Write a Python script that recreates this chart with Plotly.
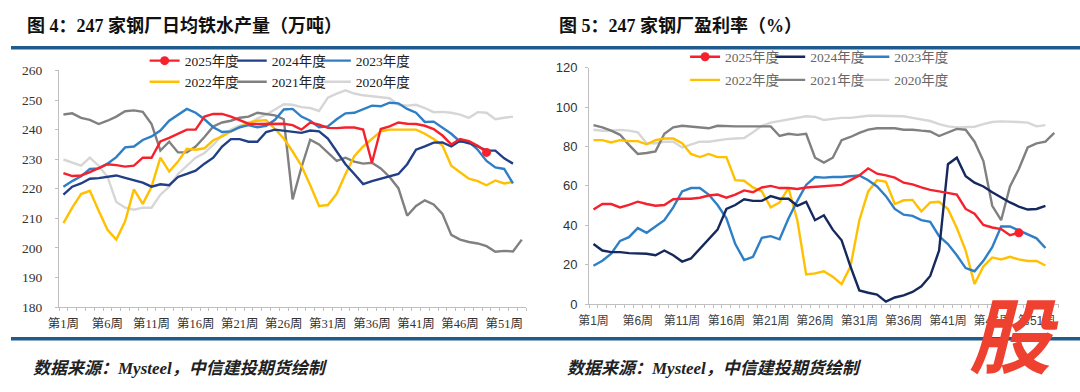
import plotly.graph_objects as go

W, H = 1080, 392

weeks = list(range(1, 54))
tick_weeks = [1, 6, 11, 16, 21, 26, 31, 36, 41, 46, 51]
tick_text = ["第%d周" % w for w in tick_weeks]
series_names = ["2025年度", "2024年度", "2023年度", "2022年度", "2021年度", "2020年度"]

# ---------------- Figure 4: daily hot metal output (10k t) ----------------
iron_2025 = [225.3, 224.3, 224.5, 225.6, 227.0, 228.3, 228.0, 227.5, 227.8, 230.5,
             230.5, 236.0, 237.2, 238.6, 240.0, 240.0, 244.4, 245.3, 245.3, 244.4,
             243.3, 242.0, 241.9, 241.9, 242.0, 242.0, 241.5, 240.0, 242.4, 241.7,
             240.6, 240.5, 240.7, 240.7, 240.0, 228.8, 240.2, 241.1, 242.4, 242.0,
             241.9, 241.3, 240.2, 238.0, 235.0, 236.8, 236.1, 234.5, 232.3]
iron_2024 = [218.0, 220.7, 221.8, 223.4, 223.6, 224.0, 224.5, 223.7, 222.9, 222.1,
             220.7, 221.5, 221.2, 224.0, 225.0, 226.1, 228.5, 230.5, 234.3, 236.8,
             236.8, 235.9, 235.9, 239.2, 240.0, 239.7, 239.4, 238.9, 239.7, 239.4,
             237.0, 232.6, 228.3, 225.0, 221.6, 222.6, 223.4, 224.0, 225.0, 228.3,
             233.2, 234.3, 235.6, 235.7, 234.3, 236.2, 235.4, 234.3, 232.9, 232.9,
             230.3, 228.5]
iron_2023 = [220.7, 222.6, 224.2, 226.7, 226.9, 228.5, 230.7, 234.0, 234.3, 236.5,
             237.7, 239.7, 243.0, 245.1, 247.0, 245.7, 243.5, 240.8, 239.2, 239.4,
             240.8, 241.5, 240.8, 241.3, 243.3, 246.8, 247.0, 244.4, 243.0, 240.8,
             241.1, 243.5, 245.5, 245.7, 247.0, 248.1, 247.9, 249.1, 248.9, 247.0,
             245.7, 242.6, 242.7, 240.8, 238.6, 235.9, 235.9, 233.2, 229.4, 227.2,
             226.7, 221.8]
iron_2022 = [208.4, 213.6, 218.2, 219.3, 212.6, 206.1, 202.8, 209.0, 219.8, 214.9,
             220.7, 230.5, 225.8, 229.2, 233.5, 233.2, 233.7, 236.4, 237.7, 239.4,
             240.8, 242.4, 243.0, 243.2, 240.2, 237.0, 232.6, 227.8, 221.2, 214.2,
             214.5, 218.3, 225.0, 231.0, 234.3, 237.0, 239.4, 240.0, 240.0, 240.0,
             240.0, 238.6, 236.8, 234.6, 227.8, 225.6, 223.4, 222.6, 221.2, 222.8,
             221.8, 222.3]
iron_2021 = [245.1, 245.5, 244.0, 243.3, 241.9, 243.0, 244.4, 246.2, 246.5, 246.0,
             241.9, 232.9, 235.9, 232.3, 232.3, 234.3, 237.5, 241.1, 242.4, 243.0,
             244.0, 244.4, 245.7, 245.3, 244.8, 243.5, 216.4, 227.2, 236.6, 235.0,
             232.1, 229.4, 230.5, 229.2, 228.5, 228.8, 226.9, 224.0, 220.2, 210.9,
             214.2, 216.1, 214.7, 211.5, 204.4, 202.8, 202.0, 201.5, 200.6, 198.7,
             199.0, 198.8, 202.8]
iron_2020 = [229.9, 228.8, 227.8, 230.5, 227.8, 224.0, 215.5, 213.6, 212.9, 213.6,
             213.6, 218.0, 220.7, 225.0, 227.8, 230.5, 232.1, 234.8, 238.1, 240.0,
             241.3, 241.9, 243.7, 245.1, 246.8, 248.6, 248.4, 247.6, 247.3, 246.3,
             250.8, 252.2, 253.3, 252.2, 251.6, 251.3, 251.0, 250.6, 248.4, 248.1,
             248.4, 247.3, 245.9, 246.0, 245.7, 245.1, 244.0, 245.9, 245.7, 243.5,
             244.0, 244.4]

# ---------------- Figure 5: steel mill profitability (%) ----------------
profit_2025 = [48.0, 50.8, 50.8, 49.1, 50.4, 52.0, 50.8, 49.9, 50.3, 53.2,
               53.5, 53.5, 54.0, 55.1, 55.6, 54.0, 55.6, 57.7, 56.8, 59.2,
               60.0, 58.9, 58.9, 58.4, 59.2, 59.5, 59.7, 60.0, 60.5, 62.9,
               65.3, 68.9, 66.2, 65.3, 64.2, 61.6, 60.8, 59.2, 58.0, 57.2,
               56.4, 55.6, 48.3, 45.9, 40.2, 38.9, 38.1, 35.0, 36.2]
profit_2024 = [30.5, 27.2, 26.4, 26.4, 25.9, 25.9, 25.6, 24.8, 27.2, 24.8,
               21.6, 23.2, 28.1, 32.9, 37.8, 48.3, 50.3, 53.2, 52.4, 52.4,
               54.8, 53.5, 53.5, 49.9, 51.9, 42.6, 45.1, 37.8, 32.4, 19.1,
               7.0, 5.8, 4.9, 1.3, 3.4, 4.5, 6.2, 9.1, 14.3, 27.2,
               71.0, 74.3, 64.9, 61.6, 59.7, 56.8, 54.0, 51.6, 49.5, 48.0,
               48.3, 49.9]
profit_2023 = [19.5, 22.0, 25.6, 32.1, 34.0, 38.6, 36.2, 39.4, 42.6, 49.1,
               57.2, 58.9, 58.9, 55.6, 50.3, 43.5, 30.5, 22.4, 24.0, 33.7,
               34.5, 32.9, 43.5, 52.4, 60.5, 64.5, 64.2, 64.5, 64.5, 64.9,
               65.3, 62.9, 59.7, 54.8, 48.3, 45.4, 44.8, 42.6, 41.8, 34.5,
               30.5, 24.8, 18.3, 16.7, 22.0, 28.9, 39.4, 39.4, 37.3, 35.3,
               33.4, 28.5]
profit_2022 = [83.2, 83.2, 82.0, 83.2, 82.7, 82.7, 81.1, 83.2, 84.0, 84.0,
               81.6, 76.2, 74.6, 76.2, 74.6, 74.6, 62.9, 62.6, 59.2, 57.2,
               49.1, 51.6, 58.9, 42.6, 15.1, 15.6, 16.7, 13.9, 10.2, 19.1,
               42.6, 57.2, 62.9, 62.1, 50.8, 52.7, 52.9, 47.0, 51.6, 51.9,
               48.3, 38.6, 27.2, 10.2, 19.1, 23.7, 22.7, 24.0, 22.7, 21.9,
               21.9, 19.6]
profit_2021 = [90.8, 89.7, 88.0, 85.9, 80.8, 76.2, 76.7, 77.5, 86.4, 89.7,
               90.5, 90.0, 89.7, 89.2, 90.5, 90.2, 90.2, 90.2, 90.2, 90.2,
               90.2, 85.3, 86.4, 85.9, 86.4, 74.3, 71.8, 74.3, 83.2, 84.8,
               86.9, 88.5, 89.2, 89.2, 89.2, 88.5, 88.5, 88.0, 87.6, 85.3,
               86.9, 88.9, 88.5, 82.4, 72.6, 49.9, 42.6, 59.7, 68.6, 79.5,
               81.6, 82.4, 86.9]
profit_2020 = [88.5, 88.0, 88.0, 88.4, 88.0, 87.2, 81.6, 81.6, 82.4, 82.4,
               79.5, 80.8, 82.4, 82.4, 83.2, 83.7, 84.0, 84.3, 87.2, 90.5,
               92.1, 92.9, 93.7, 94.5, 95.3, 95.0, 93.4, 94.0, 94.5, 94.5,
               95.0, 95.6, 95.6, 95.6, 95.3, 95.3, 94.5, 93.7, 92.9, 91.3,
               90.2, 89.7, 90.0, 90.0, 91.3, 92.4, 92.7, 92.7, 92.4, 92.1,
               90.2, 90.8]

colors = ["#F5222D", "#203F86", "#2E7FC6", "#FFC000", "#808080", "#D6D6D6"]

SERIF = "Liberation Serif, Noto Sans CJK SC, serif"
SANS = "Liberation Sans, Noto Sans CJK SC, sans-serif"


def px(x):
    return x / W


def py(y):
    return 1 - y / H


fig = go.Figure()

# legend anchor placements (pixels: left x, row centre y)
left_leg_pos = [(135, 56), (223, 56), (308, 56), (135, 78), (223, 78), (308, 78)]
right_leg_pos = [(681, 52), (767, 52), (852, 52), (681, 76), (767, 76), (852, 76)]

iron_all = [iron_2025, iron_2024, iron_2023, iron_2022, iron_2021, iron_2020]
profit_all = [profit_2025, profit_2024, profit_2023, profit_2022, profit_2021, profit_2020]

legend_layouts = {}
leg_idx = 0


def add_chart(data_all, xa, ya, leg_pos, leg_font, navy):
    global leg_idx
    order = [5, 4, 3, 2, 1, 0]  # older years first, 2025 on top
    for i in order:
        vals = data_all[i]
        col = colors[i] if i != 1 else navy
        leg_idx += 1
        lname = "legend" if leg_idx == 1 else "legend%d" % leg_idx
        if i == 0:
            fig.add_trace(go.Scatter(
                x=weeks[:len(vals)], y=vals, mode="lines", xaxis=xa, yaxis=ya,
                line=dict(color=col, width=2.4), showlegend=False, hoverinfo="skip"))
            fig.add_trace(go.Scatter(
                x=[weeks[len(vals) - 1]], y=[vals[-1]], mode="lines+markers",
                xaxis=xa, yaxis=ya, name=series_names[i], legend=lname,
                line=dict(color=col, width=2.4),
                marker=dict(color=col, size=9)))
        else:
            fig.add_trace(go.Scatter(
                x=weeks[:len(vals)], y=vals, mode="lines", xaxis=xa, yaxis=ya,
                name=series_names[i], legend=lname,
                line=dict(color=col, width=2.4)))
        lx, ly = leg_pos[i]
        legend_layouts[lname] = dict(
            x=px(lx), y=py(ly), xanchor="left", yanchor="middle",
            bgcolor="rgba(0,0,0,0)", borderwidth=0, itemwidth=30,
            font=leg_font, orientation="h", tracegroupgap=0)


add_chart(iron_all, "x", "y", left_leg_pos,
          dict(family=SERIF, size=13.5, color="#222222"), "#203F86")
add_chart(profit_all, "x2", "y2", right_leg_pos,
          dict(family=SERIF, size=13.5, color="#666666"), "#16295E")

axis_line = "#BFBFBF"
week_bounds = [w - 0.5 for w in weeks] + [weeks[-1] + 0.5]

xcommon = dict(range=[0.5, 53.5], tickmode="array", tickvals=tick_weeks, ticktext=tick_text,
               ticks="", showline=True, linecolor=axis_line, linewidth=1,
               showgrid=False, zeroline=False, fixedrange=True,
               minor=dict(tickmode="array", tickvals=week_bounds, ticks="outside",
                          ticklen=3, tickcolor=axis_line, showgrid=False))

fig.update_layout(
    width=W, height=H, margin=dict(l=0, r=0, t=0, b=0),
    paper_bgcolor="white", plot_bgcolor="white",
    xaxis=dict(domain=[px(48.5), px(520.5)], anchor="y",
               tickfont=dict(family=SERIF, size=12.5, color="#333333"),
               ticklabelstandoff=5, **xcommon),
    yaxis=dict(domain=[py(312), py(66)], anchor="x", range=[180, 260],
               tickmode="array", tickvals=list(range(180, 261, 10)),
               ticks="outside", ticklen=3, tickcolor=axis_line,
               showline=True, linecolor=axis_line, linewidth=1, showgrid=False,
               zeroline=False, tickfont=dict(family=SERIF, size=13.5, color="#333333"),
               ticklabelstandoff=10),
    xaxis2=dict(domain=[px(584), px(1058.5)], anchor="y2",
                tickfont=dict(family=SANS, size=12, color="#404040"),
                ticklabelstandoff=5, **xcommon),
    yaxis2=dict(domain=[py(309), py(63)], anchor="x2", range=[0, 120],
                tickmode="array", tickvals=list(range(0, 121, 20)),
                ticks="outside", ticklen=3, tickcolor=axis_line,
                showline=True, linecolor=axis_line, linewidth=1, showgrid=False,
                zeroline=False, tickfont=dict(family=SANS, size=13, color="#333333"),
                ticklabelstandoff=5),
    **legend_layouts,
)

# separator rules
for yy in (42.5, 345):
    fig.add_shape(type="line", xref="paper", yref="paper", x0=0, x1=1,
                  y0=py(yy), y1=py(yy), line=dict(color="#215A8C", width=3.5))

title_font = dict(family=SERIF, size=18, color="#111111", weight="bold")
fig.add_annotation(text="图 4：247 家钢厂日均铁水产量（万吨）", xref="paper", yref="paper",
                   x=px(14), y=py(19), xanchor="left", yanchor="middle",
                   showarrow=False, font=title_font)
fig.add_annotation(text="图 5：247 家钢厂盈利率（%）", xref="paper", yref="paper",
                   x=px(552), y=py(19), xanchor="left", yanchor="middle",
                   showarrow=False, font=title_font)

src_font = dict(family=SERIF, size=17, color="#222222", style="italic", weight="bold")
for sx in (20, 560):
    fig.add_annotation(text="数据来源：Mysteel，中信建投期货绘制", xref="paper", yref="paper",
                       x=px(sx), y=py(376), xanchor="left", yanchor="middle",
                       showarrow=False, font=src_font)

# watermark glyph
fig.add_annotation(text="股", xref="paper", yref="paper", x=px(1013), y=py(337),
                   xanchor="center", yanchor="middle", showarrow=False,
                   font=dict(family="Noto Sans CJK SC", size=82, color="#EE4130",
                             style="italic", weight="bold"))

fig.write_html("out.html", config={"displayModeBar": False},
               post_script="document.body.style.margin='0';")
